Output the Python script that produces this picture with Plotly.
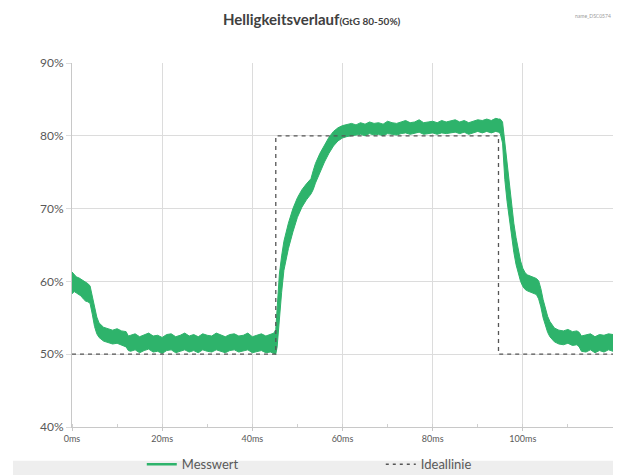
import plotly.graph_objects as go

# ---- data ----
t_ms = [0, 0.5, 1, 1.5, 2, 2.5, 3, 3.5, 4, 4.5, 5, 5.5, 6, 7, 8, 9, 10, 11, 12, 12.5,
        13, 14, 15, 16, 17, 18, 19, 20, 21, 22, 23, 24, 25, 26, 27, 28, 29, 30,
        31, 32, 33, 34, 35, 36, 37, 38, 39, 40, 41, 42, 43, 44, 44.8, 45.2,
        45.5, 46, 46.5, 47, 48, 49, 50, 51, 52, 53, 53.5, 54, 55, 56, 57, 58, 59, 60, 61, 62,
        63, 64, 65, 66, 67, 68, 69, 70, 71, 72, 73, 74, 75, 76, 77, 78, 79, 80,
        81, 82, 83, 84, 85, 86, 87, 88, 89, 90, 91, 92, 93, 94, 94.6, 95,
        95.5, 96, 96.5, 97, 97.5, 98, 98.5, 99, 99.5, 100, 100.5, 101, 102, 103, 103.5,
        104, 104.5, 105, 105.5, 106, 107, 108, 109, 110, 111, 112, 112.5, 113,
        114, 115, 116, 117, 118, 119, 120]

messwert_upper = [61.3, 60.9, 60.6, 60.5, 60.3, 60.2, 60.0, 59.7, 59.4, 58.1, 56.4, 55.1, 54.3, 53.7, 53.5, 53.3, 53.5, 53.2, 53.1, 52.5,
                  52.6, 52.8, 52.4, 52.7, 52.9, 52.5, 52.6, 52.3, 52.7, 52.8, 52.4, 52.6, 52.9, 52.5, 52.7, 52.4, 52.8, 52.6,
                  52.5, 52.9, 52.6, 52.4, 52.7, 52.8, 52.5, 52.6, 52.9, 52.4, 52.6, 52.8, 52.5, 52.7, 52.9, 53.4,
                  57.0, 61.0, 63.5, 65.5, 68.0, 70.0, 71.5, 72.6, 73.4, 74.1, 75.2, 76.2, 77.6, 78.8, 79.8, 80.6, 81.1, 81.4, 81.6, 81.7,
                  81.5, 81.8, 81.6, 81.9, 81.7, 81.8, 81.6, 82.0, 81.8, 81.7, 81.9, 82.1, 81.8, 81.9, 82.2, 81.8, 81.9, 82.0,
                  81.8, 82.1, 81.9, 82.0, 82.2, 81.9, 82.1, 81.8, 82.0, 82.2, 82.1, 82.3, 82.1, 82.4, 82.3, 82.3,
                  81.9, 79.0, 76.0, 73.0, 70.5, 68.0, 66.0, 64.2, 62.8, 61.8, 61.2, 60.9, 60.6, 60.4, 60.1,
                  59.0, 57.5, 56.2, 55.2, 54.5, 53.6, 53.3, 53.2, 53.4, 53.1, 53.2, 53.0, 52.5,
                  52.6, 52.8, 52.4, 52.7, 52.6, 52.8, 52.7]

messwert_lower = [58.3, 58.6, 58.4, 58.2, 58.0, 57.6, 57.3, 57.2, 57.0, 55.5, 53.8, 52.8, 52.3, 51.8, 51.6, 51.4, 51.5, 51.3, 51.0, 50.5,
                  50.4, 50.6, 50.2, 50.5, 50.7, 50.3, 50.4, 50.1, 50.5, 50.6, 50.2, 50.4, 50.6, 50.3, 50.5, 50.2, 50.6, 50.4,
                  50.3, 50.6, 50.4, 50.2, 50.5, 50.6, 50.3, 50.4, 50.6, 50.2, 50.4, 50.5, 50.2, 50.3, 50.1, 50.0,
                  51.0, 55.0, 58.5, 61.5, 64.5, 66.8, 68.8, 70.2, 71.2, 72.0, 72.6, 73.5, 75.0, 76.4, 77.6, 78.6, 79.3, 79.7, 79.9, 80.0,
                  80.0, 80.2, 80.0, 80.3, 80.1, 80.2, 80.0, 80.3, 80.2, 80.1, 80.3, 80.4, 80.2, 80.3, 80.5, 80.2, 80.3, 80.4,
                  80.2, 80.4, 80.3, 80.4, 80.5, 80.3, 80.5, 80.2, 80.4, 80.6, 80.4, 80.6, 80.4, 80.6, 80.5, 80.3,
                  79.0, 74.0, 71.0, 68.5, 66.0, 64.0, 62.3, 61.0, 60.0, 59.3, 58.9, 58.7, 58.4, 58.2, 57.6,
                  56.5, 55.0, 53.8, 53.0, 52.4, 51.7, 51.4, 51.3, 51.5, 51.2, 51.3, 51.0, 50.4,
                  50.3, 50.6, 50.2, 50.5, 50.3, 50.6, 50.4]

ideal_t = [0, 45.2, 45.2, 94.6, 94.6, 120]
ideal_v = [50, 50, 80, 80, 50, 50]

x_tickvals = [0, 20, 40, 60, 80, 100]
x_ticktext = ["0ms", "20ms", "40ms", "60ms", "80ms", "100ms"]
y_tickvals = [40, 50, 60, 70, 80, 90]
y_ticktext = ["40%", "50%", "60%", "70%", "80%", "90%"]

GREEN = "#2eb36b"
FONT = "Lato, 'Open Sans', sans-serif"
GRID = "#dcdcdc"
TXT = "#595959"

fig = go.Figure()

# green measured band (lower edge, then upper edge filled to it)
fig.add_trace(go.Scatter(x=t_ms, y=messwert_lower, mode="lines",
                         line=dict(color=GREEN, width=1), showlegend=False, hoverinfo="skip"))
fig.add_trace(go.Scatter(x=t_ms, y=messwert_upper, mode="lines", fill="tonexty",
                         fillcolor=GREEN, line=dict(color=GREEN, width=1),
                         showlegend=False, hoverinfo="skip"))

# ideal line
fig.add_trace(go.Scatter(x=ideal_t, y=ideal_v, mode="lines", name="Ideallinie",
                         line=dict(color="#555555", width=1.3, dash="4px,4px"), showlegend=False))

# legend-only entries
fig.add_trace(go.Scatter(x=[None], y=[None], mode="lines", name="Messwert",
                         line=dict(color=GREEN, width=2.5)))
fig.add_trace(go.Scatter(x=[None], y=[None], mode="lines", name="Ideallinie",
                         line=dict(color="#555555", width=1.5, dash="3px,4px")))

# grey band behind legend
fig.add_shape(type="rect", xref="paper", yref="paper", x0=-0.109, x1=1.04,
              y0=-0.093, y1=-0.16, fillcolor="#eeeeee", line=dict(width=0), layer="below")

fig.update_layout(
    width=621, height=475,
    margin=dict(l=64, r=16, t=55, b=56, autoexpand=False),
    paper_bgcolor="white", plot_bgcolor="white",
    font=dict(family=FONT, color=TXT),
    title=dict(text="<b>Helligkeitsverlauf</b><span style='font-size:10px'><b>(GtG 80-50%)</b></span>",
               x=0.443, xref="paper", xanchor="center", y=0.975, yanchor="middle",
               font=dict(size=15, color="#404040", family=FONT)),
    showlegend=True,
    legend=dict(orientation="h", x=0.129, xref="paper", xanchor="left", y=-0.061, yanchor="top",
                font=dict(size=13, color=TXT, family=FONT), entrywidth=194,
                traceorder="normal", bgcolor="rgba(0,0,0,0)", itemwidth=30),
    annotations=[dict(text="name_DSC0574", x=1.0, xref="paper", y=1.128, yref="paper",
                      yanchor="middle", xanchor="right", showarrow=False,
                      font=dict(size=5, color="#9a9a9a"))],
)

fig.update_xaxes(range=[0, 120], tickvals=x_tickvals, ticktext=x_ticktext,
                 showgrid=True, gridcolor=GRID, gridwidth=1,
                 showline=True, linecolor="#c8c8c8", linewidth=1,
                 ticks="outside", ticklen=3, tickcolor="#c8c8c8",
                 minor=dict(dtick=10, tick0=0, ticks="inside", ticklen=3, tickcolor="#d0d0d0", showgrid=False),
                 tickfont=dict(size=9, color=TXT), zeroline=False, fixedrange=True)
fig.update_yaxes(range=[40, 90], tickvals=y_tickvals, ticktext=y_ticktext,
                 showgrid=True, gridcolor=GRID, gridwidth=1,
                 showline=True, linecolor="#c8c8c8", linewidth=1,
                 ticks="outside", ticklen=5, tickcolor=GRID,
                 tickfont=dict(size=12, color=TXT), zeroline=False, fixedrange=True)

fig.write_html("out.html")
